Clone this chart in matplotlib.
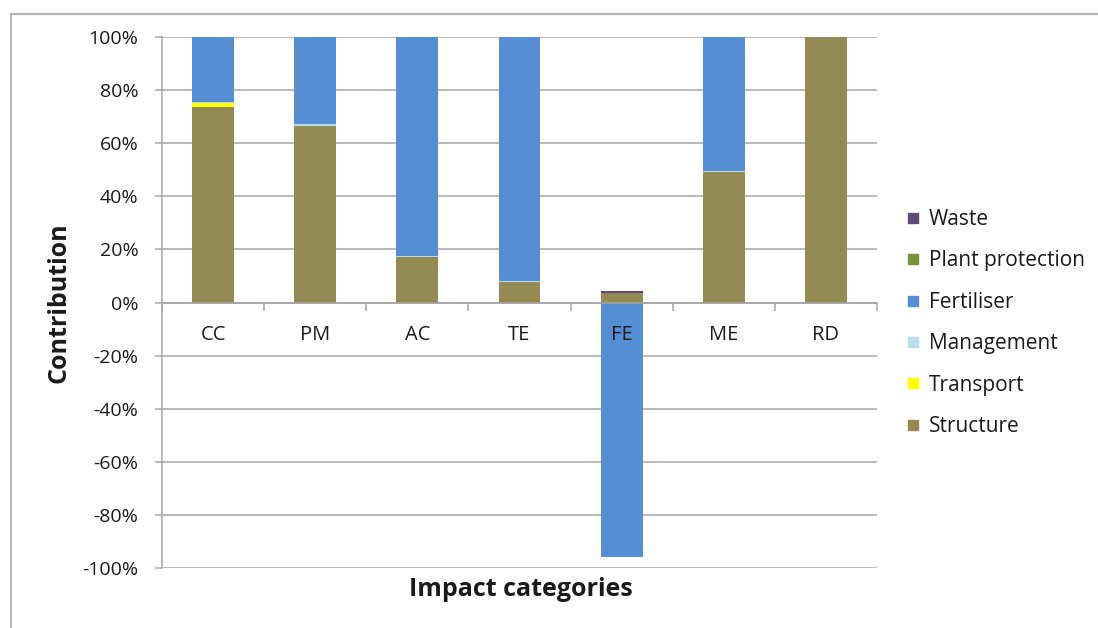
import matplotlib
matplotlib.use("Agg")
import matplotlib.pyplot as plt
import numpy as np
from matplotlib.lines import Line2D
from matplotlib.ticker import FixedLocator, FuncFormatter

# Contribution of each life-cycle stage to the impact categories (%)
categories = ['CC', 'PM', 'AC', 'TE', 'FE', 'ME', 'RD']
structure = [73.8, 66.4, 17.3, 7.6, 3.6, 49.1, 100.0]
transport = [1.2, 0.1, 0.0, 0.0, 0.0, 0.0, 0.0]
management = [0.7, 0.6, 0.2, 0.5, 0.0, 0.5, 0.0]
fertiliser = [24.3, 32.9, 82.5, 91.9, -96.0, 50.4, 0.0]
plant_protection = [0.0, 0.0, 0.0, 0.0, 0.0, 0.0, 0.0]
waste = [0.0, 0.0, 0.0, 0.0, 0.7, 0.0, 0.0]

series = [
    ('Structure', structure, '#948A54'),
    ('Transport', transport, '#FFFF00'),
    ('Management', management, '#B7DEE8'),
    ('Fertiliser', fertiliser, '#558ED5'),
    ('Plant protection', plant_protection, '#77933C'),
    ('Waste', waste, '#604A7B'),
]

plt.rcParams['font.family'] = ['Open Sans', 'DejaVu Sans']
text_color = '#1a1a1a'
grid_color = '#a6a6a6'

fig = plt.figure(figsize=(10.98, 6.28), dpi=100)
ax = fig.add_axes([162 / 1098, 1 - 568 / 628, (877 - 162) / 1098, (568 - 37) / 628])

x = np.arange(len(categories))
pos_bottom = np.zeros(len(categories))
neg_bottom = np.zeros(len(categories))
handles = []
for name, values, color in series:
    v = np.array(values, dtype=float)
    bottom = np.where(v >= 0, pos_bottom, neg_bottom)
    ax.bar(x, v, width=0.41, bottom=bottom, color=color, linewidth=0, zorder=3)
    pos_bottom += np.where(v > 0, v, 0)
    neg_bottom += np.where(v < 0, v, 0)
    handles.append(Line2D([], [], marker='s', linestyle='none', markersize=7.5,
                          markerfacecolor=color, markeredgecolor=color, label=name))

ax.set_xlim(-0.5, len(categories) - 0.5)
ax.set_ylim(-100, 100)

# y axis
ax.yaxis.set_major_locator(FixedLocator(np.arange(-100, 101, 20)))
ax.yaxis.set_major_formatter(FuncFormatter(lambda v, p: f'{v:.0f}%'))
ax.grid(axis='y', color=grid_color, linewidth=1.1, zorder=0)
ax.tick_params(axis='y', direction='out', length=5, width=1.1, color=grid_color,
               pad=12, labelsize=14, labelcolor=text_color)

# category axis on the zero line, drawn above the bars
ax.spines['bottom'].set_position(('data', 0))
ax.spines['bottom'].set_color(grid_color)
ax.spines['bottom'].set_linewidth(1.1)
ax.spines['bottom'].set_zorder(4)
ax.spines['left'].set_color(grid_color)
ax.spines['left'].set_linewidth(1.1)
for s in ('top', 'right'):
    ax.spines[s].set_visible(False)
ax.xaxis.set_zorder(5)
ax.set_xticks(x)
ax.set_xticklabels(categories)
ax.set_xticks(np.arange(-0.5, len(categories)), minor=True)
ax.tick_params(axis='x', which='major', length=0, pad=16, labelsize=14.5, labelcolor=text_color)
ax.tick_params(axis='x', which='minor', direction='out', length=6, width=1.1, color=grid_color)

ax.set_ylabel('Contribution', fontsize=18, fontweight='bold', color=text_color)
ax.yaxis.set_label_coords((71 - 162) / 715, 0.5)

fig.text(521 / 1098, 1 - 590 / 628, 'Impact categories', ha='center', va='center',
         fontsize=18, fontweight='bold', color=text_color)

leg = fig.legend(handles=handles[::-1], loc='upper left',
                 bbox_to_anchor=(906 / 1098, 1 - 209 / 628), frameon=False,
                 fontsize=15, labelspacing=0.98, handlelength=0.7, handletextpad=0.4,
                 borderaxespad=0, borderpad=0)
for t in leg.get_texts():
    t.set_color(text_color)

# chart frame
fig.add_artist(Line2D([10.5 / 1098, 1.0], [1 - 13.5 / 628, 1 - 13.5 / 628],
                      transform=fig.transFigure, color='#b4b4b4', linewidth=1.5))
fig.add_artist(Line2D([10.5 / 1098, 10.5 / 1098], [1 - 13.5 / 628, 0.0],
                      transform=fig.transFigure, color='#b4b4b4', linewidth=1.5))

fig.savefig('out.png', dpi=100)
